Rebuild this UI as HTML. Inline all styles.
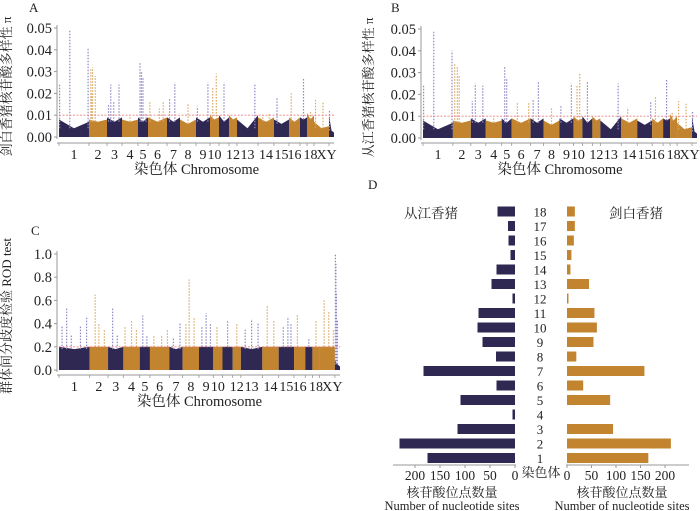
<!DOCTYPE html>
<html><head><meta charset="utf-8"><style>
html,body{margin:0;padding:0;background:#fff;}
svg{display:block;font-family:"Liberation Serif","Noto Serif CJK SC",serif;}
text{fill:#222;}
</style></head><body>
<svg id="fig" width="700" height="511" viewBox="0 0 700 511"></svg>
<script>
const NS="http://www.w3.org/2000/svg";
const chromNames=["1","2","3","4","5","6","7","8","9","10","11","12","13","14","15","16","17","18","X","Y"];
const chromLabels=["1","2","3","4","5","6","7","8","9","10","","12","13","14","15","16","","18","X","Y"];
const chromLengths=[30,18,15,16,10,19,13,16,14,9,10,8,21,16,15,11,7,7,15,5];
const chromColorIdx=[0,1,0,1,0,1,0,1,0,1,0,1,0,1,0,1,0,1,1,0];
const baseA=[[0.008,0.004,0.007],[0.008,0.007,0.008],[0.009,0.007,0.009],[0.008,0.007,0.008],[0.009,0.007,0.009],[0.009,0.007,0.009],[0.009,0.007,0.009],[0.008,0.006,0.008],[0.009,0.007,0.009],[0.010,0.008,0.009],[0.010,0.007,0.009],[0.010,0.008,0.009],[0.008,0.004,0.010],[0.009,0.007,0.009],[0.008,0.006,0.008],[0.009,0.007,0.009],[0.009,0.008,0.009],[0.011,0.008,0.010],[0.007,0.004,0.005],[0.010,0.003,0.002]];
const peaksA=[[[0.02,0.024],[0.36,0.049],[0.97,0.041]],[[0.1,0.031],[0.2,0.032],[0.35,0.028],[0.15,0.02]],[[0.1,0.015],[0.25,0.024],[0.45,0.016],[0.8,0.024]],[[0.5,0.009]],[[0.2,0.034],[0.35,0.03],[0.5,0.027],[0.8,0.011]],[[0.1,0.016],[0.6,0.013],[0.8,0.016]],[[0.2,0.018],[0.6,0.025]],[[0.5,0.015]],[[0.1,0.014],[0.85,0.025]],[[0.3,0.023],[0.7,0.029]],[[0.5,0.025]],[],[[0.85,0.024]],[[0.3,0.01],[0.7,0.011]],[[0.2,0.018]],[[0.2,0.02]],[[0.5,0.027]],[[0.5,0.012]],[[0.1,0.017],[0.6,0.016]],[[0.1,0.012]]];
const baseB=baseA;
const peaksB=[[[0.02,0.024],[0.36,0.049],[0.97,0.040]],[[0.1,0.034],[0.25,0.033],[0.35,0.029]],[[0.1,0.017],[0.3,0.025],[0.8,0.024]],[[0.5,0.009]],[[0.3,0.033],[0.5,0.027]],[[0.3,0.016],[0.9,0.016]],[[0.2,0.018],[0.6,0.026]],[[0.5,0.014]],[[0.1,0.015],[0.85,0.025]],[[0.4,0.024],[0.7,0.030]],[[0.5,0.026]],[],[[0.85,0.025]],[[0.4,0.014]],[[0.9,0.017]],[[0.3,0.019]],[[0.5,0.027]],[[0.3,0.012]],[[0.1,0.017],[0.6,0.016]],[[0.1,0.012]]];
const baseC=[[0.2,0.18,0.2],[0.2,0.2,0.2],[0.2,0.18,0.2],[0.2,0.2,0.2],[0.2,0.2,0.2],[0.2,0.2,0.2],[0.2,0.18,0.2],[0.2,0.2,0.2],[0.2,0.2,0.2],[0.2,0.2,0.2],[0.2,0.2,0.2],[0.2,0.2,0.2],[0.2,0.18,0.2],[0.2,0.2,0.2],[0.2,0.2,0.2],[0.2,0.2,0.2],[0.2,0.2,0.2],[0.2,0.2,0.2],[0.2,0.2,0.2],[0.08,0.05,0.03]];
const peaksC=[[[0.1,0.38],[0.25,0.53],[0.4,0.3],[0.7,0.38],[0.9,0.45]],[[0.3,0.65],[0.5,0.4],[0.8,0.35]],[[0.3,0.54],[0.6,0.3]],[[0.1,0.37],[0.5,0.42],[0.8,0.35]],[[0.3,0.47],[0.7,0.3]],[[0.2,0.3],[0.6,0.3],[0.9,0.35]],[[0.3,0.27],[0.8,0.4]],[[0.2,0.4],[0.4,0.78],[0.7,0.45]],[[0.2,0.37],[0.5,0.49],[0.8,0.4]],[[0.4,0.38]],[[0.5,0.42]],[[0.5,0.4]],[[0.2,0.35],[0.5,0.44],[0.8,0.4]],[[0.3,0.55],[0.7,0.42]],[[0.3,0.38],[0.6,0.46],[0.8,0.4]],[[0.3,0.48]],[[0.5,0.27]],[[0.5,0.42]],[[0.3,0.6],[0.6,0.5],[0.9,0.35]],[[0.1,1.0],[0.2,0.92],[0.3,0.66],[0.5,0.43]]];
const ticksPi=["0.00","0.01","0.02","0.03","0.04","0.05"];
const ticksRod=["0.0","0.2","0.4","0.6","0.8","1.0"];
const barChroms=["1","2","3","4","5","6","7","8","9","10","11","12","13","14","15","16","17","18"];
const congjiang=[175,231,115,5,109,37,183,38,65,75,73,5,47,37,9,13,14,35];
const jianbai=[166,212,94,0,88,33,158,19,54,61,56,3,45,7,9,14,16,16];
const barTicks=["0","50","100","150","200"];

const svg=document.getElementById("fig");
const COL=["#2f2853","#c2842f"],PCOL=["#8d88c4","#d9a860"];
function el(tag,attrs,parent){const e=document.createElementNS(NS,tag);for(const k in attrs)e.setAttribute(k,attrs[k]);(parent||svg).appendChild(e);return e;}
function txt(s,x,y,size,anchor,parent,extra){const t=el("text",Object.assign({x:x,y:y,"font-size":size,"text-anchor":anchor||"middle"},extra||{}),parent);t.textContent=s;return t;}

function manhattan(o){
  const g=el("g",{});
  
  
  const total=chromLengths.reduce((a,b)=>a+b,0);
  const W=o.x1-o.x0;
  const xs=v=>o.x0+v/total*W;
  const ys=v=>o.yb-(v/o.ymax)*(o.yb-o.yt);
  let cum=0;
  chromLengths.forEach((len,i)=>{
    const a=xs(cum),b=xs(cum+len),m=(a+b)/2;
    const bs=o.base[i];const c=chromColorIdx[i];
    const p=el("polygon",{points:`${a},${ys(0)} ${a},${ys(bs[0])} ${m},${ys(bs[1])} ${b},${ys(bs[2])} ${b},${ys(0)}`,fill:COL[c]},g);
    
    
    o.peaks[i].forEach(pk=>{
      const px=a+pk[0]*(b-a);
      const ln=el("line",{x1:px,x2:px,y1:ys(bs[1]),y2:ys(pk[1]),stroke:PCOL[c],"stroke-width":1.2,"stroke-dasharray":"1.5,1.5"},g);
      
      
    });
    const tk=el("line",{x1:a,x2:a,y1:o.axY,y2:o.axY+3,stroke:"#999","stroke-width":0.8},g);
    
    
    if(chromLabels[i]){const t=txt(chromLabels[i],m,o.axY+16,14,"middle",g);
      
      }
    cum+=len;
  });
  const th=el("line",{x1:o.x0,x2:o.x1,y1:ys(o.thr),y2:ys(o.thr),stroke:"#f08080","stroke-width":0.8,"stroke-dasharray":"2,1.5"},g);
  
  
  const ax=el("line",{x1:o.x0-2,x2:o.x1,y1:o.axY,y2:o.axY,stroke:"#999","stroke-width":1},g);
  
  
  const ay=el("line",{x1:o.x0-2,x2:o.x0-2,y1:o.yt-3,y2:o.yb+2,stroke:"#999","stroke-width":1},g);
  
  
  o.ticks.forEach(t=>{const v=parseFloat(t);const y=ys(v);
    const l=el("line",{x1:o.x0-5,x2:o.x0-2,y1:y,y2:y,stroke:"#999","stroke-width":1},g);
    
    
    const tt=txt(t,o.x0-7,y+5,14.5,"end",g);
    
    });
  const yl=txt(o.ylabel,0,0,13,"middle",g,{transform:`translate(${o.ylx},${(o.yt+o.yb)/2+4}) rotate(-90)`});
  
  
  if(o.xlabel){const xl=txt(o.xlabel,(o.x0+o.x1)/2,o.axY+31,14.5,"middle",g);
    
    }
  const pl=txt(o.letter,o.lx,o.ly,13,"start",g);
  
  
}
manhattan({name:"panel-a",x0:59,x1:334,yt:28,yb:137,axY:143,ymax:0.05,thr:0.01,base:baseA,peaks:peaksA,ticks:ticksPi,ylabel:"剑白香猪核苷酸多样性 π",ylx:11,xlabel:"染色体  Chromosome",letter:"A",lx:29,ly:12});
manhattan({name:"panel-b",x0:423,x1:697,yt:29,yb:138,axY:143,ymax:0.05,thr:0.01,base:baseB,peaks:peaksB,ticks:ticksPi,ylabel:"从江香猪核苷酸多样性 π",ylx:373,xlabel:"染色体  Chromosome",letter:"B",lx:391,ly:12});
manhattan({name:"panel-c",x0:59,x1:340,yt:254,yb:370,axY:375,ymax:1.0,thr:0.2,base:baseC,peaks:peaksC,ticks:ticksRod,ylabel:"群体间分歧度检验 ROD test",ylx:11,xlabel:"染色体  Chromosome",letter:"C",lx:31,ly:235});

// Panel D
(function(){
  const g=el("g",{});
  
  
  const L0=515,Lpx=0.5,R0=567,Rpx=0.49;
  const rowY=i=>458-i*14.5;
  barChroms.forEach((c,i)=>{
    const y=rowY(i);
    const w1=congjiang[i]*Lpx;
    const b1=el("rect",{x:L0-w1,y:y-5,width:w1,height:10,fill:COL[0]},g);
    
    
    const w2=jianbai[i]*Rpx;
    const b2=el("rect",{x:R0,y:y-5,width:w2,height:10,fill:COL[1]},g);
    
    
    const t=txt(c,540,y+5,13,"middle",g);
    
    
  });
  const a1=el("line",{x1:393,x2:516,y1:465,y2:465,stroke:"#999","stroke-width":1},g);
  
  
  const a2=el("line",{x1:566,x2:689,y1:465,y2:465,stroke:"#999","stroke-width":1},g);
  
  
  barTicks.forEach(t=>{const v=+t;
    const xl=L0-v*Lpx,xr=R0+v*Rpx;
    const l1=el("line",{x1:xl,x2:xl,y1:465,y2:468,stroke:"#999"},g);
    
    
    const l2=el("line",{x1:xr,x2:xr,y1:465,y2:468,stroke:"#999"},g);
    
    
    const t1=txt(t,xl,480,13.5,"middle",g);
    
    
    const t2=txt(t,xr,480,13.5,"middle",g);
    
    
  });
  const ca=txt("染色体",541,477,13,"middle",g);
  
  
  const n1=txt("从江香猪",431,218,13.5,"middle",g);
  
  
  const n2=txt("剑白香猪",636,218,13.5,"middle",g);
  
  
  [[452,"left"],[622,"right"]].forEach(p=>{
    const t1=txt("核苷酸位点数量",p[0],497,13,"middle",g);
    
    
    const t2=txt("Number of nucleotide sites",p[0],510,12.5,"middle",g);
    
    
  });
  const dl=txt("D",368,189,13,"start",g);
  
  
})();
</script>
</body></html>
